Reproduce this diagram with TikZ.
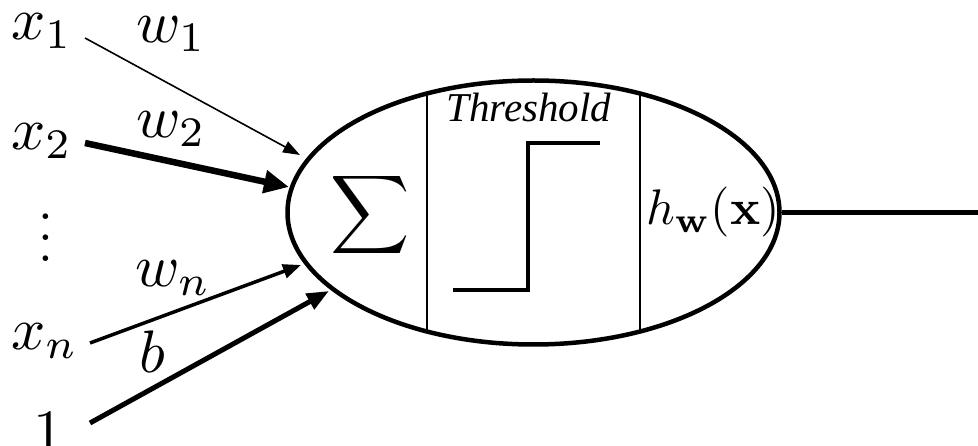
\documentclass[tikz,border=0pt]{standalone}
\usepackage[no-math]{fontspec}
\usepackage{amsmath}
\newfontfamily\threshfont{Liberation Serif}[ItalicFont={Liberation Serif Italic}]
\usetikzlibrary{arrows.meta,shapes.geometric}
\newcommand{\biglab}[1]{\scalebox{6}{$#1$}}
\begin{document}
\begin{tikzpicture}[x=1pt,y=-1pt,
  lab/.style={anchor=base west, inner sep=0pt},
  thinarrow/.style={line width=1.6pt, -{Triangle[length=17pt,width=12pt]}},
  boldarrow/.style={line width=6.5pt, -{Triangle[length=25pt,width=22pt]}},
  midarrow/.style={line width=3.5pt, -{Triangle[length=18pt,width=14pt]}},
  biasarrow/.style={line width=5pt, -{Triangle[length=22pt,width=17pt]}},
  outarrow/.style={line width=5.5pt, -{Triangle[length=18pt,width=16pt]}},
  divider/.style={line width=2pt},
  stepline/.style={line width=4.5pt}]
\useasboundingbox (0,0) rectangle (978,446);
\fill[white] (0,0) rectangle (978,446);

% neuron body
\node[draw, ellipse, line width=4.5pt, inner sep=0pt,
      minimum width=492pt, minimum height=264pt] (neuron) at (533.5,212.5) {};
\coordinate (d1t) at (426.8,93.6);
\coordinate (d1b) at (426.8,331.4);
\coordinate (d2t) at (640.2,93.6);
\coordinate (d2b) at (640.2,331.4);
\draw[divider] (d1t) -- (d1b);
\draw[divider] (d2t) -- (d2b);

\node[inner sep=0pt] (sum) at (370,215) {\scalebox{5.5}{$\displaystyle\sum$}};
\node[anchor=base, inner sep=0pt] (thr) at (529,122) {\threshfont\itshape\fontsize{41}{45}\selectfont Threshold};
\draw[stepline] (453,290) -- (528,290) -- (528,143) -- (600,143);
\node[anchor=base west, inner sep=0pt] (hw) at (646,225) {\scalebox{5}{$h_{\mathbf{w}}(\mathbf{x})$}};

% inputs
\node[lab] (x1) at (11,40) {\biglab{x_1}};
\node[lab] (w1) at (136,43) {\biglab{w_1}};
\node[lab] (x2) at (11,150) {\biglab{x_2}};
\node[lab] (w2) at (136,138) {\biglab{w_2}};
\node[inner sep=0pt, anchor=south] (dots) at (46,262) {\scalebox{5.3}{$\vdots$}};
\node[lab] (wn) at (135,287) {\biglab{w_n}};
\node[lab] (xn) at (11,350) {\biglab{x_n}};
\node[lab] (b) at (139,373) {\biglab{b}};
\node[lab] (one) at (33,451) {\biglab{1}};

\coordinate (s1) at (85,38);
\coordinate (t1) at (300,155);
\coordinate (s2) at (85,143);
\coordinate (t2) at (289,187);
\coordinate (sn) at (90,343);
\coordinate (tn) at (301,265);
\coordinate (sb) at (90,423);
\coordinate (tb) at (329,291);
\coordinate (out) at (996,212.5);

\draw[thinarrow] (s1) -- (t1);
\draw[boldarrow] (s2) -- (t2);
\draw[midarrow] (sn) -- (tn);
\draw[biasarrow] (sb) -- (tb);
\draw[outarrow] (neuron.east) -- (out);
\end{tikzpicture}
\end{document}
